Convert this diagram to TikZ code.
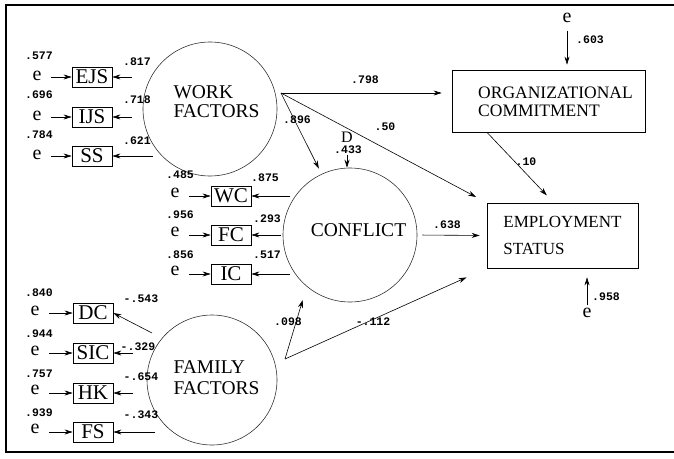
\documentclass[tikz,border=0pt]{standalone}
\usepackage{fontspec}
\setmainfont{Liberation Serif}
\newfontfamily\numfont{Liberation Mono}
\usetikzlibrary{arrows.meta}

\begin{document}
\begin{tikzpicture}[x=1pt,y=-1pt]
\tikzstyle{every node}=[inner sep=0pt]
\tikzstyle{latent}=[draw=black!80, line width=0.6pt, circle, minimum size=134pt]
\tikzstyle{ind}=[draw, line width=0.7pt, minimum width=40pt, minimum height=20pt, font=\fontsize{21}{21}\selectfont]
\tikzstyle{outbox}=[draw, line width=0.7pt]
\tikzstyle{big}=[align=left, font=\fontsize{19.5}{19.5}\selectfont]
\tikzstyle{boxtext}=[align=left, font=\fontsize{17.5}{17.5}\selectfont]
\tikzstyle{err}=[inner sep=0.5pt, font=\fontsize{20}{20}\selectfont]
\tikzstyle{num}=[font=\numfont\bfseries\fontsize{11.5}{11.5}\selectfont]
\tikzstyle{arr}=[-{Stealth[length=8pt,width=5pt]}, line width=0.6pt]

\useasboundingbox (0,0) rectangle (674,458);
\draw[line width=2.4pt] (674,5) -- (6,5) -- (6,452) -- (674,452);

% latent variables
\node[latent] (WF) at (210,109) {};
\node[big] at (216.5,101.5) {WORK\\FACTORS};
\node[latent] (CF) at (350,235) {};
\node[big] at (358.5,230) {CONFLICT};
\node[latent, minimum size=130pt] (FF) at (212,380) {};
\node[big, font=\fontsize{19.5}{21}\selectfont] at (216.5,378) {FAMILY\\FACTORS};

% outcomes
\node[outbox, minimum width=193pt, minimum height=62pt] (OC) at (548.5,101) {};
\node[boxtext] at (555.5,102) {ORGANIZATIONAL\\COMMITMENT};
\node[outbox, minimum width=151pt, minimum height=65pt, boxtext, font=\fontsize{17}{27}\selectfont] (ES) at (562.5,235.5) {EMPLOYMENT\\STATUS};

% work factors indicators
\node[ind] (EJS) at (92,77) {EJS};
\node[ind] (IJS) at (92,117) {IJS};
\node[ind] (SS) at (92,156) {SS};
\node[err] (e1) at (37,76) {e};
\node[err] (e2) at (37,116) {e};
\node[err] (e3) at (37,155) {e};
\node[num] at (39,56) {.577};
\node[num] at (39,95) {.696};
\node[num] at (39,135) {.784};
\coordinate (wEJS) at (132,77);
\coordinate (wIJS) at (132,117);
\coordinate (wSS) at (153,156);
\node[num] at (137,62) {.817};
\node[num] at (137,100) {.718};
\node[num] at (137,141) {.621};
\draw[arr, shorten <=9pt] (e1.east |- EJS) -- (EJS.west);
\draw[arr, shorten <=9pt] (e2.east |- IJS) -- (IJS.west);
\draw[arr, shorten <=9pt] (e3.east |- SS) -- (SS.west);
\draw[arr] (wEJS) -- (EJS);
\draw[arr] (wIJS) -- (IJS);
\draw[arr] (wSS) -- (SS);

% conflict indicators
\node[ind] (WC) at (231,196) {WC};
\node[ind] (FC) at (231,235) {FC};
\node[ind] (IC) at (231,274) {IC};
\node[err] (e4) at (175,193) {e};
\node[err] (e5) at (175,232) {e};
\node[err] (e6) at (175,271) {e};
\node[num] at (180,175) {.485};
\node[num] at (180,215) {.956};
\node[num] at (180,255) {.856};
\coordinate (cWC) at (290,196);
\coordinate (cFC) at (281,235);
\coordinate (cIC) at (290,274);
\node[num] at (265,178) {.875};
\node[num] at (267,219) {.293};
\node[num] at (267,255) {.517};
\draw[arr, shorten <=9pt] (e4.east |- WC) -- (WC.west);
\draw[arr, shorten <=9pt] (e5.east |- FC) -- (FC.west);
\draw[arr, shorten <=9pt] (e6.east |- IC) -- (IC.west);
\draw[arr] (cWC) -- (WC);
\draw[arr] (cFC) -- (FC);
\draw[arr] (cIC) -- (IC);

% family factors indicators
\node[ind] (DC) at (93,313) {DC};
\node[ind] (SIC) at (93,353) {SIC};
\node[ind] (HK) at (93,393) {HK};
\node[ind] (FS) at (93,432) {FS};
\node[err] (e7) at (35,311) {e};
\node[err] (e8) at (35,351) {e};
\node[err] (e9) at (35,390) {e};
\node[err] (e10) at (35,429) {e};
\node[num] at (39,293) {.840};
\node[num] at (39,334) {.944};
\node[num] at (39,374) {.757};
\node[num] at (39,413) {.939};
\coordinate (fDC) at (152,333);
\coordinate (fSIC) at (133,353);
\coordinate (fHK) at (133,393);
\coordinate (fFS) at (155,432);
\node[num] at (141,299) {-.543};
\node[num] at (138,347) {-.329};
\node[num] at (141,377) {-.654};
\node[num] at (141,415) {-.343};
\draw[arr, shorten <=9pt] (e7.east |- DC) -- (DC.west);
\draw[arr, shorten <=9pt] (e8.east |- SIC) -- (SIC.west);
\draw[arr, shorten <=9pt] (e9.east |- HK) -- (HK.west);
\draw[arr, shorten <=9pt] (e10.east |- FS) -- (FS.west);
\draw[arr] (fDC) -- (DC.east);
\draw[arr] (fSIC) -- (SIC);
\draw[arr] (fHK) -- (HK);
\draw[arr] (fFS) -- (FS);

% structural paths
\coordinate (wfR) at (281,93);
\coordinate (ffR) at (285,359);
\draw[arr, shorten >=10pt] (wfR) -- (OC.west |- wfR);
\node[num] at (365,80) {.798};
\draw[arr, shorten >=12pt] (wfR) -- (ES.north west);
\node[num] at (385,127) {.50};
\draw[arr, shorten >=6pt] (wfR) -- (CF.115);
\node[num] at (297,120) {.896};
\node[err, font=\fontsize{16}{16}\selectfont] (D) at (347,137) {D};
\node[num] at (348,150) {.433};
\draw[arr, shorten <=12pt] (D) -- (D |- CF.north);
\draw[arr, shorten >=10pt] (OC.-153) -- (ES.105);
\node[num] at (526,162) {.10};
\draw[arr, shorten <=5pt, shorten >=7pt] (CF.east) -- (ES.west);
\node[num] at (447,225) {.638};
\draw[arr, shorten >=14pt] (ffR) -- (CF.230);
\node[num] at (288,322) {.098};
\draw[arr, shorten >=22pt] (ffR) -- (ES.south west);
\node[num] at (373,322) {-.112};

% errors of outcomes
\node[err] (eOC) at (567,18) {e};
\draw[arr, shorten <=7pt, shorten >=5pt] (eOC) -- (eOC |- OC.north);
\node[num] at (590,40) {.603};
\node[err] (eES) at (587,313) {e};
\draw[arr, shorten <=2pt, shorten >=9pt] (eES) -- (eES |- ES.south);
\node[num] at (606,297) {.958};
\end{tikzpicture}
\end{document}
